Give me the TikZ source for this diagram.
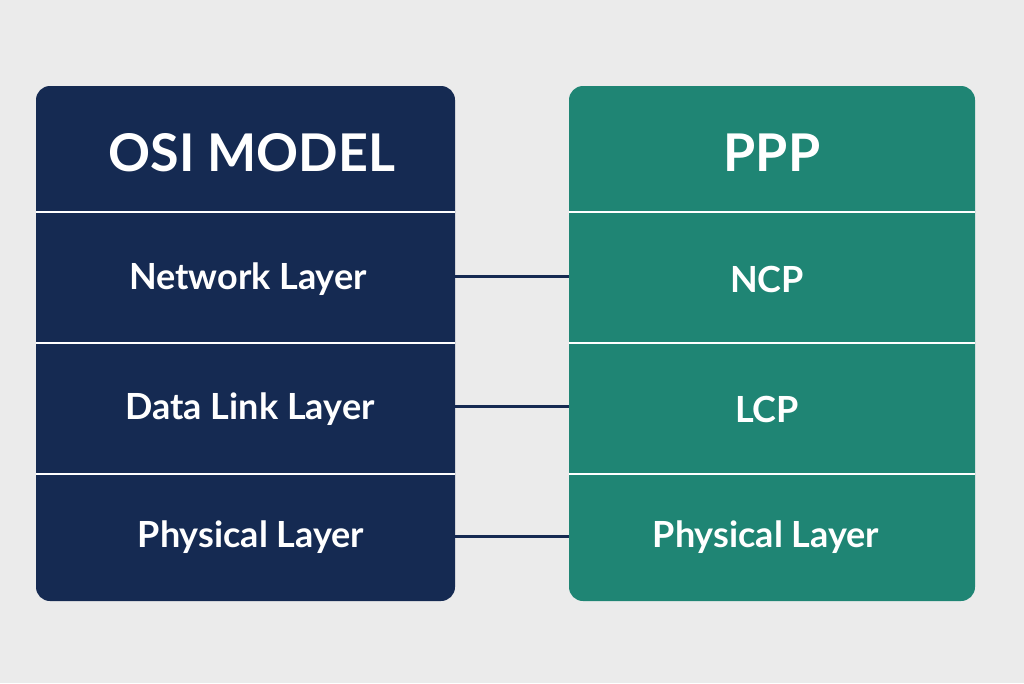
\documentclass[tikz,border=0pt]{standalone}
\usepackage{fontspec}
\setmainfont{Lato}
\definecolor{bg}{HTML}{EBEBEB}
\definecolor{navy}{HTML}{152A52}
\definecolor{teal}{HTML}{1F8574}
\begin{document}
\begin{tikzpicture}[x=1pt,y=-1pt,
  box/.style={rounded corners=14pt},
  div/.style={white,line width=1.6pt},
  conn/.style={navy,line width=3pt},
  title/.style={white,font=\bfseries\fontsize{52}{60}\selectfont},
  lab/.style={white,font=\bfseries\fontsize{36}{42}\selectfont}]
\fill[bg] (0,0) rectangle (1024,683);
\useasboundingbox (0,0) rectangle (1024,683);
\fill[navy,box] (36,86) rectangle (455,601);
\fill[teal,box] (569,86) rectangle (975,601);
\foreach \y in {212,343,474}{
  \draw[div] (36,\y) -- (455,\y);
  \draw[div] (569,\y) -- (975,\y);}
\node[title] (osi) at (252,153) {OSI MODEL};
\node[title] (ppp) at (772,153) {PPP};
\node[lab] (n1) at (248,279) {Network Layer};
\node[lab] (n2) at (250,409) {Data Link Layer};
\node[lab] (n3) at (251,537) {Physical Layer};
\node[lab] (p1) at (767,279) {NCP};
\node[lab] (p2) at (767,409) {LCP};
\node[lab] (p3) at (766,537) {Physical Layer};
\coordinate (a1) at (455,276); \coordinate (b1) at (569,276);
\coordinate (a2) at (455,406); \coordinate (b2) at (569,406);
\coordinate (a3) at (455,536); \coordinate (b3) at (569,536);
\draw[conn] (a1) -- (b1);
\draw[conn] (a2) -- (b2);
\draw[conn] (a3) -- (b3);
\end{tikzpicture}
\end{document}
